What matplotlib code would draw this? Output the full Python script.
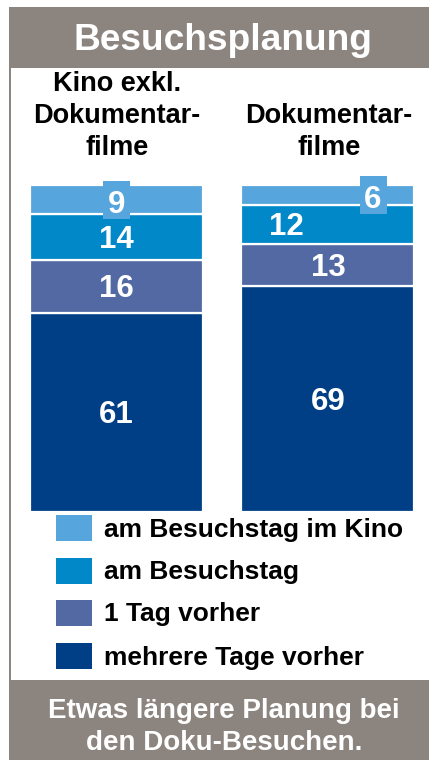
import matplotlib
matplotlib.use("Agg")
import matplotlib.pyplot as plt
from matplotlib.patches import Rectangle
import numpy as np

plt.rcParams['font.family'] = ['Liberation Sans', 'DejaVu Sans']
plt.rcParams['font.weight'] = 'bold'

# ---- data ----
title = "Besuchsplanung"
categories = ["Kino exkl.\nDokumentar-\nfilme", "Dokumentar-\nfilme"]
series_names = ["mehrere Tage vorher", "1 Tag vorher", "am Besuchstag", "am Besuchstag im Kino"]
mehrere = [61, 69]
ein_tag = [16, 13]
besuchstag = [14, 12]
besuchstag_kino = [9, 6]
footer = "Etwas längere Planung bei\nden Doku-Besuchen."

colors = ["#003f85", "#5269a3", "#0088c8", "#56a5dc"]
grey = "#8c847f"

W, H = 429, 760
fig = plt.figure(figsize=(W / 100, H / 100), dpi=100)

def fx(px):
    return px / W

def fy(py):
    return 1 - py / H

# frame: top bar, left line, bottom bar
fig.patches.append(Rectangle((fx(9), fy(68)), fx(420), (68 - 7) / H, transform=fig.transFigure,
                             facecolor=grey, edgecolor='none', zorder=0))
fig.patches.append(Rectangle((fx(9), fy(760)), fx(420), (760 - 680) / H, transform=fig.transFigure,
                             facecolor=grey, edgecolor='none', zorder=0))
fig.patches.append(Rectangle((fx(9), fy(680)), fx(2), (680 - 68) / H, transform=fig.transFigure,
                             facecolor=grey, edgecolor='none', zorder=0))

fig.text(fx(223), fy(40), title, color='white', fontsize=26.7, fontweight='bold',
         ha='center', va='center')
fig.text(fx(224), fy(727), footer, color='white', fontsize=20, fontweight='bold',
         ha='center', va='center', linespacing=1.28)

# ---- bars ----
bar_w = 173 / 211.5
ax = fig.add_axes([fx(30), fy(512), fx(384.5), 327 / H])
x = np.arange(len(categories))
series = [mehrere, ein_tag, besuchstag, besuchstag_kino]
bottom = np.zeros(len(categories))
containers = []
for vals, col, name in zip(series, colors, series_names):
    c = ax.bar(x, vals, bar_w, bottom=bottom, color=col, edgecolor='white', linewidth=1.6, label=name)
    containers.append((c, np.array(vals), bottom.copy()))
    bottom = bottom + np.array(vals)

ax.set_xlim(-bar_w / 2, len(categories) - 1 + bar_w / 2)
ax.set_ylim(0, 100)
ax.axis('off')

# value labels
x_offsets = {(2, 1): -0.195, (3, 1): 0.213}
for si, (c, vals, bots) in enumerate(containers):
    for ci in range(len(categories)):
        xc = x[ci] + x_offsets.get((si, ci), 0)
        yc = bots[ci] + vals[ci] / 2
        dy = 0.8
        if si == 3:
            bw, bh = 27 / 211.5, 38 / 3.27
            ax.add_patch(Rectangle((xc - bw / 2, yc - bh / 2), bw, bh, facecolor=colors[3],
                                   edgecolor='none', clip_on=False, zorder=3))
            dy = 1.6
        ax.text(xc, yc - dy, str(vals[ci]), color='white', fontsize=22.5, fontweight='bold',
                ha='center', va='center', zorder=4)

# category labels
cat_x = [117, 329]
for cx, lab in zip(cat_x, categories):
    fig.text(fx(cx), fy(155), lab, ha='center', va='baseline', fontsize=19.5,
             fontweight='bold', linespacing=1.3, color='black')

# legend (manual)
leg_y = [528, 571, 613, 656]
for yy, col, name in zip(leg_y, colors[::-1], series_names[::-1]):
    fig.patches.append(Rectangle((fx(56), fy(yy + 13)), fx(36), 26 / H, transform=fig.transFigure,
                                 facecolor=col, edgecolor='none'))
    fig.text(fx(104), fy(yy + 1.5), name, ha='left', va='center', fontsize=19, fontweight='bold',
             color='black')

fig.savefig("out.png", dpi=100)
